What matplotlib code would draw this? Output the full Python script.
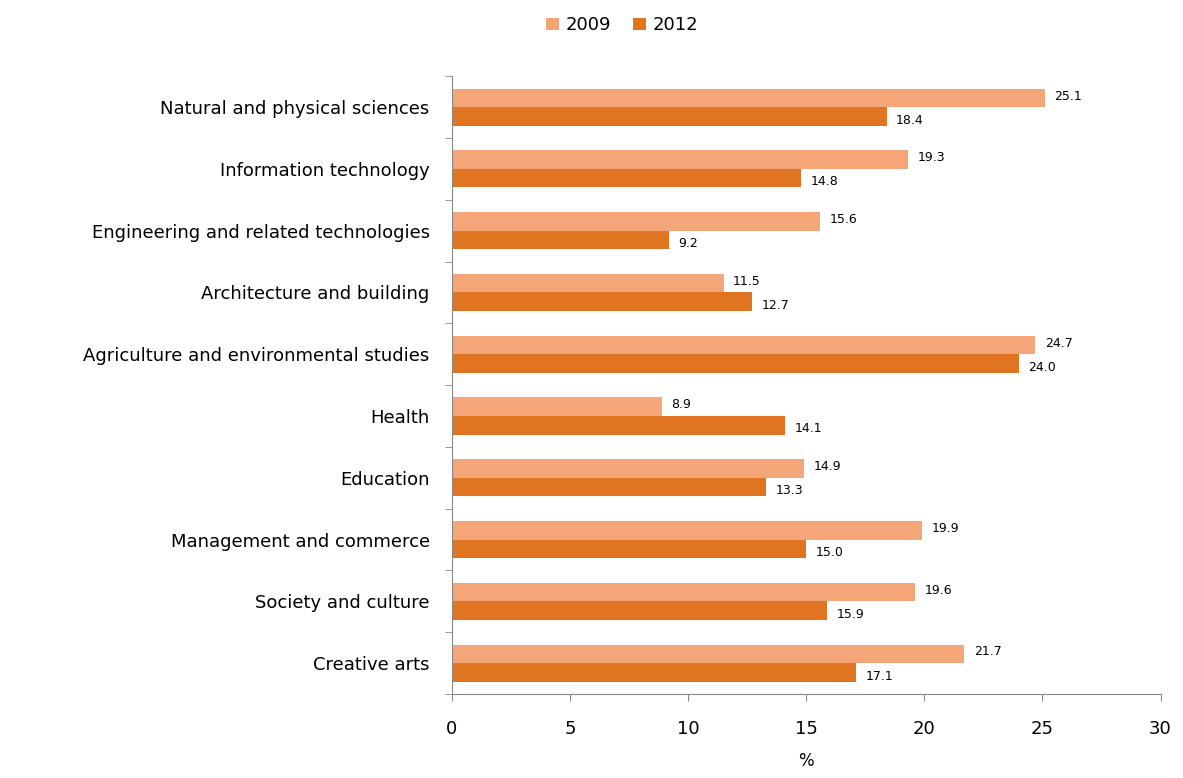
import numpy as np
import matplotlib.pyplot as plt
from matplotlib.patches import Patch

categories = ['Natural and physical sciences', 'Information technology',
              'Engineering and related technologies', 'Architecture and building',
              'Agriculture and environmental studies', 'Health', 'Education',
              'Management and commerce', 'Society and culture', 'Creative arts']
vals_2009 = [25.1, 19.3, 15.6, 11.5, 24.7, 8.9, 14.9, 19.9, 19.6, 21.7]
vals_2012 = [18.4, 14.8, 9.2, 12.7, 24.0, 14.1, 13.3, 15.0, 15.9, 17.1]

c09 = '#F4A678'
c12 = '#E07420'

fig = plt.figure(figsize=(11.83, 7.78), dpi=100)
ax = fig.add_axes([0.382, 0.108, 0.599, 0.794])

n = len(categories)
y = np.arange(n)[::-1]
h = 0.3
ax.barh(y + h / 2, vals_2009, height=h, color=c09, edgecolor='none')
ax.barh(y - h / 2, vals_2012, height=h, color=c12, edgecolor='none')

for yi, v in zip(y, vals_2009):
    ax.text(v + 0.4, yi + h / 2 + 0.03, f'{v:.1f}', va='center', ha='left', fontsize=9)
for yi, v in zip(y, vals_2012):
    ax.text(v + 0.4, yi - h / 2 - 0.06, f'{v:.1f}', va='center', ha='left', fontsize=9)

ax.set_xlim(0, 30)
ax.set_ylim(-0.5, n - 0.5)
ax.set_xticks(range(0, 31, 5))
ax.tick_params(axis='x', labelsize=13, length=5, color='#888888', pad=14)
ax.set_yticks(y)
ax.set_yticklabels(categories, fontsize=13)
ax.set_yticks(np.arange(-0.5, n, 1), minor=True)
ax.tick_params(axis='y', which='major', length=0, pad=16)
ax.tick_params(axis='y', which='minor', length=5, color='#888888')
for s in ['top', 'right']:
    ax.spines[s].set_visible(False)
for s in ['left', 'bottom']:
    ax.spines[s].set_color('#888888')
ax.set_xlabel('%', fontsize=12, labelpad=10)

handles = [Patch(facecolor=c09, label='2009'), Patch(facecolor=c12, label='2012')]
fig.legend(handles=handles, loc='upper center', bbox_to_anchor=(0.526, 1.0), ncol=2,
           frameon=False, fontsize=13, handlelength=0.7, handleheight=0.7,
           columnspacing=1.2, handletextpad=0.4)

fig.savefig('out.png', dpi=100)
